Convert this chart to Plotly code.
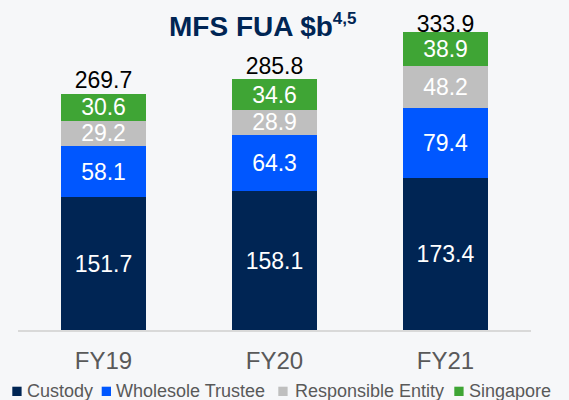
import plotly.graph_objects as go

categories = ["FY19", "FY20", "FY21"]
custody = [151.7, 158.1, 173.4]
wholesale = [58.1, 64.3, 79.4]
responsible = [29.2, 28.9, 48.2]
singapore = [30.6, 34.6, 38.9]
totals = [269.7, 285.8, 333.9]

series_names = ["Custody", "Wholesole Trustee", "Responsible Entity", "Singapore"]
series_values = [custody, wholesale, responsible, singapore]
colors = ["#002554", "#0057ff", "#bfbfbf", "#3fa535"]

FONT = "Liberation Sans, Arial, sans-serif"
W, H = 569, 400
L, R, T, B = 18, 531, 32, 330


def xp(px):
    return (px - L) / (R - L)


def yp(py):
    return (B - py) / (B - T)


fig = go.Figure()
for name, vals, col in zip(series_names, series_values, colors):
    fig.add_trace(go.Bar(
        x=categories, y=vals, name=name,
        marker=dict(color=col, line=dict(width=0)),
        text=[f"{v:.1f}" for v in vals],
        textposition="inside", insidetextanchor="middle",
        constraintext="none",
        textfont=dict(color="white", size=23, family=FONT),
        showlegend=False, hoverinfo="skip",
    ))

fig.add_trace(go.Scatter(
    x=categories, y=totals, mode="text",
    text=[f"{v:.1f}" for v in totals],
    textposition="top center",
    textfont=dict(color="black", size=23, family=FONT),
    showlegend=False, cliponaxis=False, hoverinfo="skip",
))

annotations = [dict(
    text="<b>MFS FUA $b<sup><span style='font-size:17px'>4,5</span></sup></b>",
    xref="paper", yref="paper", x=xp(167), y=yp(25),
    xanchor="left", yanchor="middle", showarrow=False,
    font=dict(size=28, color="#002554", family=FONT),
)]
shapes = []
sq_left = [12.3, 101.7, 278.3, 454.3]
txt_left = [26, 115.7, 294, 468]
for name, col, sl, tl in zip(series_names, colors, sq_left, txt_left):
    shapes.append(dict(type="rect", xref="paper", yref="paper",
                       x0=xp(sl), x1=xp(sl + 9.3), y0=yp(396), y1=yp(386.7),
                       fillcolor=col, line=dict(width=0)))
    annotations.append(dict(
        text=name, xref="paper", yref="paper", x=xp(tl - 1.5), y=yp(390.5),
        xanchor="left", yanchor="middle", showarrow=False,
        font=dict(size=18, color="#595959", family=FONT),
    ))

fig.update_layout(
    width=W, height=H,
    margin=dict(l=L, r=W - R, t=T, b=H - B, pad=0),
    barmode="stack", bargap=0.5,
    paper_bgcolor="#f6f7f9", plot_bgcolor="#f6f7f9",
    font=dict(family=FONT),
    annotations=annotations, shapes=shapes,
    xaxis=dict(showline=True, linecolor="#d9d9d9", linewidth=1.5,
               ticks="outside", ticklen=8, tickcolor="rgba(0,0,0,0)",
               tickfont=dict(size=24, color="#595959", family=FONT),
               showgrid=False, fixedrange=True),
    yaxis=dict(range=[0, 340], visible=False, showgrid=False, fixedrange=True),
)

fig.write_html(
    "out.html",
    config={"displayModeBar": False},
    post_script="document.body.style.margin='0';document.body.style.background='#f6f7f9';",
)
